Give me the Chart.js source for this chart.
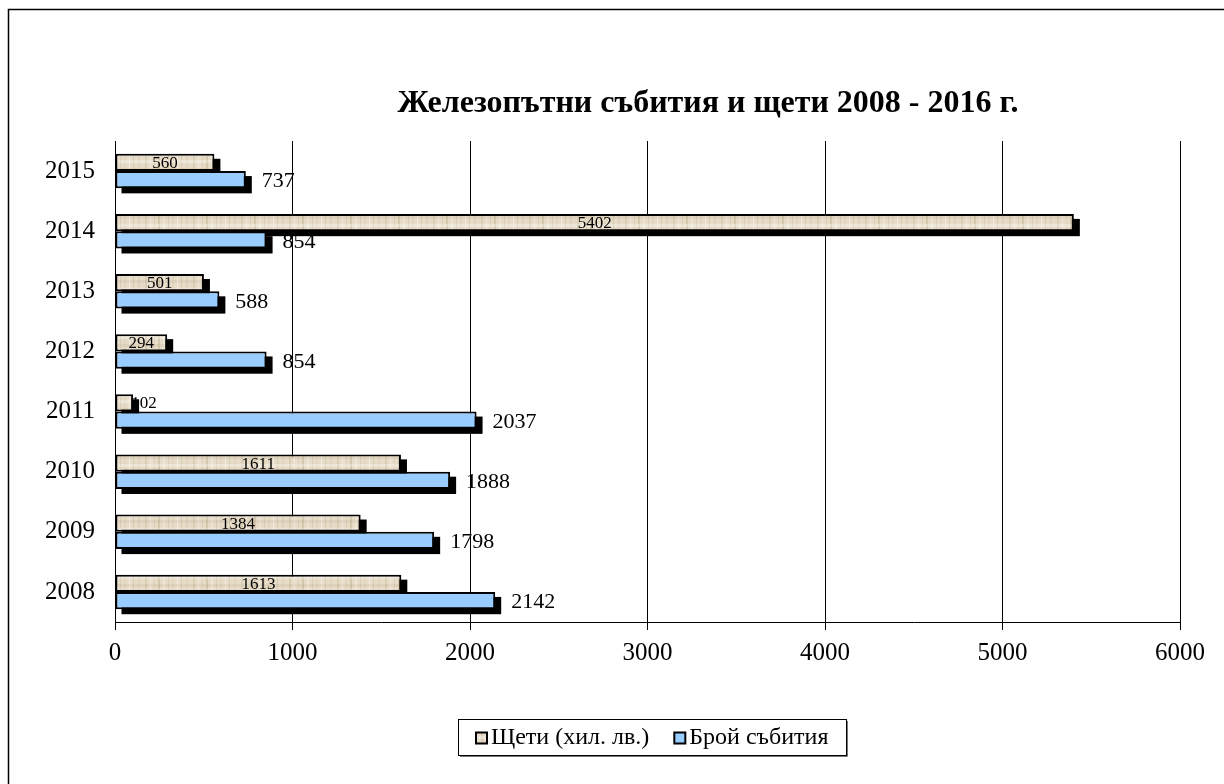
<!DOCTYPE html>
<html><head><meta charset="utf-8">
<script src="https://cdn.jsdelivr.net/npm/chart.js@4.4.1/dist/chart.umd.min.js"></script>
<style>html,body{margin:0;padding:0;background:#fff;}#wrap{width:1224px;height:784px;position:relative;overflow:hidden;}</style>
</head><body><div id="wrap"><canvas id="c" width="1224" height="784"></canvas></div>
<script>
const titleText = 'Железопътни събития и щети 2008 - 2016 г.';
const categories = ['2015','2014','2013','2012','2011','2010','2009','2008'];
const seriesNames = ['Щети (хил. лв.)', 'Брой събития'];
const damages = [560, 5402, 501, 294, 102, 1611, 1384, 1613];
const events = [737, 854, 588, 854, 2037, 1888, 1798, 2142];
const xTicks = [0, 1000, 2000, 3000, 4000, 5000, 6000];

const FONT = '"Liberation Serif","Times New Roman",Times,serif';
const SHADOW_DX = 6, SHADOW_DY = 5;
const BLUE = '#99CCFF';

function makePattern() {
  const c = document.createElement('canvas');
  c.width = 48; c.height = 16;
  const g = c.getContext('2d');
  g.fillStyle = '#E7DCC8'; g.fillRect(0, 0, 48, 16);
  const streaks = [[1,'#D9CDB5',2],[6,'#F1EADC',1],[10,'#DED2BC',1],[14,'#D5C8AE',2],[19,'#EEE6D5',2],[24,'#D9CDB4',1],[28,'#E2D7C2',2],[33,'#F2ECE0',1],[37,'#D7CAB1',1],[42,'#E0D4BE',2]];
  streaks.forEach(([x, col, w]) => { g.fillStyle = col; g.fillRect(x, 0, w, 16); });
  g.fillStyle = 'rgba(255,255,255,0.3)'; g.fillRect(0, 0, 48, 3);
  g.fillStyle = 'rgba(160,140,110,0.12)'; g.fillRect(0, 8, 48, 3);
  return g.createPattern(c, 'repeat');
}
const beige = makePattern();

const decor = {
  id: 'decor',
  beforeDraw(chart) {
    const ctx = chart.ctx;
    ctx.save();
    ctx.fillStyle = '#fff'; ctx.fillRect(0, 0, chart.width, chart.height);
    ctx.strokeStyle = '#000'; ctx.lineWidth = 1.5;
    ctx.strokeRect(8.5, 9.5, chart.width + 40, chart.height + 40);
    ctx.restore();
  },
  beforeDatasetsDraw(chart) {
    const ctx = chart.ctx;
    ctx.save();
    ctx.font = '22px ' + FONT; ctx.fillStyle = '#000';
    ctx.textBaseline = 'middle'; ctx.textAlign = 'left';
    chart.getDatasetMeta(1).data.forEach((el, i) => {
      ctx.fillText(String(events[i]), el.x + 16, el.y + 2);
    });
    ctx.fillStyle = '#000';
    [0, 1].forEach(d => {
      chart.getDatasetMeta(d).data.forEach(el => {
        const left = Math.min(el.x, el.base), w = Math.abs(el.x - el.base);
        ctx.fillRect(left + SHADOW_DX, el.y - el.height / 2 + SHADOW_DY, w, el.height);
      });
    });
    ctx.restore();
  },
  afterDatasetsDraw(chart) {
    const ctx = chart.ctx;
    ctx.save();
    ctx.font = '17px ' + FONT; ctx.fillStyle = '#000';
    ctx.textBaseline = 'middle'; ctx.textAlign = 'center';
    chart.getDatasetMeta(0).data.forEach((el, i) => {
      const t = String(damages[i]);
      const tw = ctx.measureText(t).width;
      const bw = Math.abs(el.x - el.base);
      const x = bw < tw + 8 ? el.x + 11 : (el.x + el.base) / 2;
      ctx.fillText(t, x, el.y + 1);
    });
    ctx.restore();
  },
  afterDraw(chart) {
    const ctx = chart.ctx;
    ctx.save();
    ctx.font = 'bold 32px ' + FONT; ctx.fillStyle = '#000';
    ctx.textAlign = 'center'; ctx.textBaseline = 'middle';
    ctx.fillText(titleText, 708, 104);
    ctx.font = '24px ' + FONT;
    const sq = 11, gap = 4, itemGap = 25, padX = 18;
    const items = seriesNames.map((n, i) => ({ n, w: ctx.measureText(n).width, fill: i ? BLUE : beige }));
    let total = padX * 2 + itemGap * (items.length - 1);
    items.forEach(it => total += sq + gap + it.w);
    const top = 719, h = 36;
    let x = Math.round(652.5 - total / 2);
    ctx.strokeStyle = '#000'; ctx.lineWidth = 1;
    ctx.strokeRect(x + 0.5, top + 0.5, Math.round(total), h);
    ctx.strokeStyle = '#777';
    ctx.beginPath(); ctx.moveTo(x + Math.round(total) + 1.5, top + 2); ctx.lineTo(x + Math.round(total) + 1.5, top + h + 1.5); ctx.lineTo(x + 2, top + h + 1.5); ctx.stroke();
    let cx = x + padX;
    const cy = top + h / 2 + 1;
    ctx.textAlign = 'left';
    items.forEach(it => {
      ctx.fillStyle = it.fill;
      ctx.fillRect(cx, cy - sq / 2, sq, sq);
      ctx.lineWidth = 2; ctx.strokeStyle = '#000';
      ctx.strokeRect(cx, cy - sq / 2, sq, sq);
      ctx.fillStyle = '#000';
      ctx.fillText(it.n, cx + sq + gap, cy);
      cx += sq + gap + it.w + itemGap;
    });
    ctx.restore();
  }
};

new Chart(document.getElementById('c'), {
  type: 'bar',
  data: {
    labels: categories,
    datasets: [
      { label: seriesNames[0], data: damages, backgroundColor: beige, borderColor: '#000', borderWidth: 2, borderSkipped: false },
      { label: seriesNames[1], data: events, backgroundColor: BLUE, borderColor: '#000', borderWidth: 2, borderSkipped: false }
    ]
  },
  options: {
    indexAxis: 'y',
    responsive: false,
    animation: false,
    devicePixelRatio: 1,
    layout: { padding: { left: 0, top: 141, right: 44, bottom: 122 } },
    datasets: { bar: { barPercentage: 1, categoryPercentage: 0.575 } },
    plugins: { legend: { display: false }, title: { display: false }, tooltip: { enabled: false } },
    scales: {
      x: {
        type: 'linear', min: 0, max: 6000,
        afterBuildTicks(s) { s.ticks = xTicks.map(v => ({ value: v })); },
        afterFit(s) { s.height = 40; },
        grid: { color: '#000', lineWidth: 1, tickLength: 8, drawTicks: true },
        border: { display: true, color: '#000', width: 1 },
        ticks: { color: '#000', font: { family: FONT, size: 25 }, padding: 8, maxRotation: 0, callback: v => String(v) }
      },
      y: {
        afterFit(s) { s.width = 115; },
        grid: { display: false },
        border: { display: true, color: '#000', width: 1 },
        ticks: { color: '#000', font: { family: FONT, size: 25 }, padding: 12 }
      }
    }
  },
  plugins: [decor]
});
</script>
</body></html>
